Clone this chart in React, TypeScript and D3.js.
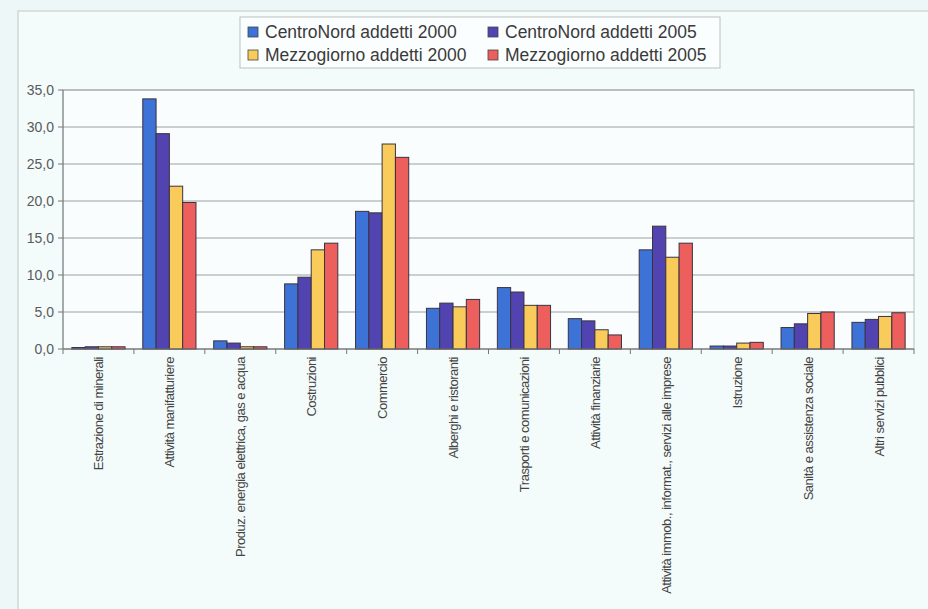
import React from "react";
import * as d3 from "d3";

const categories = [
  "Estrazione di minerali",
  "Attività manifatturiere",
  "Produz. energia elettrica, gas e acqua",
  "Costruzioni",
  "Commercio",
  "Alberghi e ristoranti",
  "Trasporti e comunicazioni",
  "Attività finanziarie",
  "Attività immob., informat., servizi alle imprese",
  "Istruzione",
  "Sanità e assistenza sociale",
  "Altri servizi pubblici",
];

const seriesNames = [
  "CentroNord addetti 2000",
  "CentroNord addetti 2005",
  "Mezzogiorno addetti 2000",
  "Mezzogiorno addetti 2005",
];

const centroNord2000 = [0.2, 33.8, 1.1, 8.8, 18.6, 5.5, 8.3, 4.1, 13.4, 0.4, 2.9, 3.6];
const centroNord2005 = [0.3, 29.1, 0.8, 9.7, 18.4, 6.2, 7.7, 3.8, 16.6, 0.4, 3.4, 4.0];
const mezzogiorno2000 = [0.3, 22.0, 0.3, 13.4, 27.7, 5.7, 5.9, 2.6, 12.4, 0.8, 4.8, 4.4];
const mezzogiorno2005 = [0.3, 19.8, 0.3, 14.3, 25.9, 6.7, 5.9, 1.9, 14.3, 0.9, 5.0, 4.9];

const yTicks = [0, 5, 10, 15, 20, 25, 30, 35];
const colors = ["#3d72d6", "#5244b0", "#f9cb5a", "#ec5f5c"];

export default function App() {
  const W = 928;
  const H = 609;
  const left = 63;
  const right = 914;
  const top = 90;
  const bottom = 349;
  const series = [centroNord2000, centroNord2005, mezzogiorno2000, mezzogiorno2005];

  const x0 = d3
    .scaleBand<string>()
    .domain(categories)
    .range([left, right])
    .paddingInner(0.25)
    .paddingOuter(0.125);
  const x1 = d3
    .scaleBand<number>()
    .domain([0, 1, 2, 3])
    .range([0, x0.bandwidth()]);
  const y = d3.scaleLinear().domain([0, 35]).range([bottom, top]);
  const step = x0.step();
  const fmt = (v: number) => v.toFixed(1).replace(".", ",");

  return (
    <svg
      width={W}
      height={H}
      style={{ position: "absolute", left: 0, top: 0, background: "#eef7f7" }}
    >
      <rect x={18} y={11} width={W} height={H} fill="#f4fbfb" stroke="#c8cfcf" strokeWidth={1.2} />
      <rect x={left} y={top} width={right - left} height={bottom - top} fill="#f9fdfd" stroke="#b9bfbf" />
      {yTicks.map((t) => (
        <g key={t}>
          <line x1={left} x2={right} y1={y(t)} y2={y(t)} stroke="#9aa0a0" strokeWidth={1} />
          <line x1={left - 5} x2={left} y1={y(t)} y2={y(t)} stroke="#777" />
          <text
            x={left - 9}
            y={y(t)}
            dy="0.35em"
            textAnchor="end"
            fontFamily="Arial, Liberation Sans, sans-serif"
            fontSize={14}
            fill="#5a5a5a"
          >
            {fmt(t)}
          </text>
        </g>
      ))}
      <line x1={left} x2={left} y1={top} y2={bottom} stroke="#777" />
      {categories.map((c, i) => (
        <line
          key={"t" + i}
          x1={left + i * step}
          x2={left + i * step}
          y1={bottom}
          y2={bottom + 5}
          stroke="#777"
        />
      ))}
      <line x1={right} x2={right} y1={bottom} y2={bottom + 5} stroke="#777" />
      {categories.map((c, i) => (
        <g key={c} transform={`translate(${x0(c)},0)`}>
          {series.map((s, k) => (
            <rect
              key={k}
              x={x1(k)}
              y={y(s[i])}
              width={x1.bandwidth()}
              height={bottom - y(s[i])}
              fill={colors[k]}
              stroke="#3a3340"
              strokeWidth={1}
            />
          ))}
        </g>
      ))}
      <line x1={left} x2={right} y1={bottom} y2={bottom} stroke="#777" />
      {categories.map((c) => {
        const cx = (x0(c) as number) + x0.bandwidth() / 2;
        return (
          <text
            key={"l" + c}
            transform={`translate(${cx + 5},357) rotate(-90)`}
            textAnchor="end"
            fontFamily="Arial, Liberation Sans, sans-serif"
            fontSize={13}
            letterSpacing={-0.5}
            fill="#444"
          >
            {c}
          </text>
        );
      })}
      <rect x={240} y={17} width={480} height={51} fill="#fbfefe" stroke="#b9c0c0" />
      {seriesNames.map((n, k) => {
        const col = k % 2;
        const row = Math.floor(k / 2);
        const sx = col === 0 ? 248 : 488;
        const cy = row === 0 ? 32 : 55;
        return (
          <g key={n}>
            <rect x={sx} y={cy - 5} width={10} height={10} fill={colors[k]} stroke="#444" strokeWidth={0.8} />
            <text
              x={sx + 17}
              y={cy}
              dy="0.35em"
              fontFamily="Arial, Liberation Sans, sans-serif"
              fontSize={17.5}
              fill="#3a3a3a"
            >
              {n}
            </text>
          </g>
        );
      })}
    </svg>
  );
}
